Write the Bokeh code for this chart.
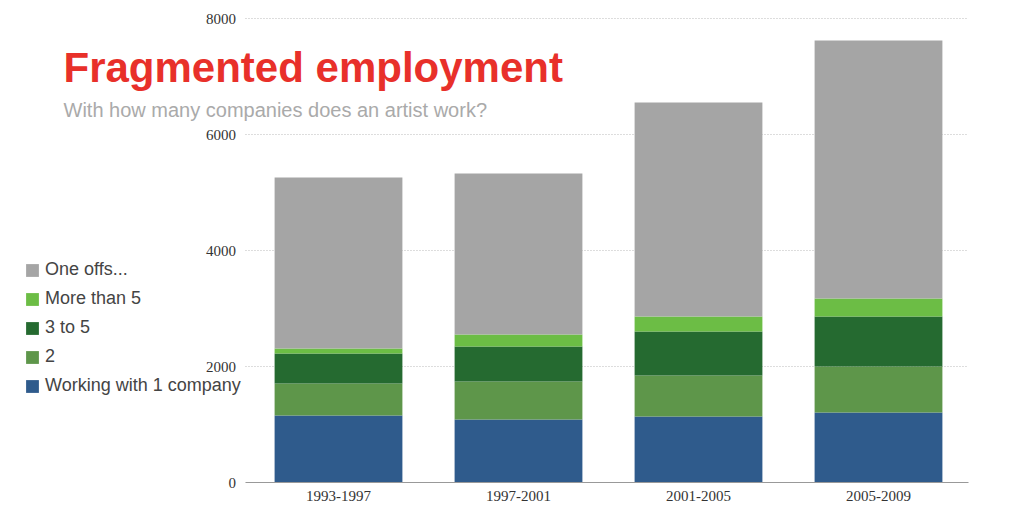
from bokeh.plotting import figure
from bokeh.models import Label, Legend, LegendItem, Range1d, ColumnDataSource
from bokeh.embed import file_html
from bokeh.resources import INLINE

periods = ["1993-1997", "1997-2001", "2001-2005", "2005-2009"]
one = [1155, 1086, 1138, 1207]
two = [552, 655, 707, 793]
three_five = [517, 604, 758, 862]
more5 = [86, 207, 259, 310]
offs = [2948, 2775, 3689, 4448]
names = ["Working with 1 company", "2", "3 to 5", "More than 5", "One offs..."]
colors = ["#2f5b8c", "#5e964a", "#256a30", "#6cbd45", "#a5a5a5"]
keys = ["one", "two", "three", "more", "offs"]
yticks = [0, 2000, 4000, 6000, 8000]

idx = list(range(len(periods)))
data = dict(x=idx, p=periods, one=one, two=two, three=three_five, more=more5, offs=offs)

p = figure(width=1008, height=518, output_backend="svg", toolbar_location=None,
           min_border=0, x_axis_type=None, y_axis_type=None)
p.x_range = Range1d(-338 / 180, (1008 - 338) / 180)
p.y_range = Range1d(-36 / 0.058, 8000 + 18 / 0.058)
p.grid.visible = False
p.outline_line_color = None

x0, x1 = -0.5167, 3.5
p.segment(x0=[x0] * len(yticks[1:]), x1=[x1] * len(yticks[1:]), y0=yticks[1:], y1=yticks[1:],
          line_color="#bbbbbb", line_dash="1 2", line_width=1)
rs = p.vbar_stack(keys, x="x", width=0.71, color=colors, line_color=None,
                  source=ColumnDataSource(data))
p.segment(x0=[x0], x1=[x1], y0=[0], y1=[0], line_color="#999999")
p.text(x=[-0.57] * len(yticks), y=yticks, text=[str(t) for t in yticks],
       text_align="right", text_baseline="middle", text_font="Liberation Sans",
       text_font_size="15px", text_color="#333333")
p.text(x=idx, y=[-150] * len(idx), text=periods, text_align="center",
       text_baseline="top", text_font="Liberation Sans", text_font_size="15px",
       text_color="#333333")

items = [LegendItem(label=names[i], renderers=[rs[i]]) for i in range(4, -1, -1)]
leg = Legend(items=items, location=(24, 122), background_fill_alpha=0,
             border_line_color=None, label_text_font="Liberation Sans",
             label_text_font_size="18px", glyph_width=16, glyph_height=16,
             label_height=18, spacing=8, padding=0, margin=0)
p.add_layout(leg, "center")

p.add_layout(Label(x=63, y=428, x_units="screen", y_units="screen",
                   text="Fragmented employment", text_color="#e8302a",
                   text_font="Liberation Sans", text_font_style="bold",
                   text_font_size="42px"))
p.add_layout(Label(x=63, y=398, x_units="screen", y_units="screen",
                   text="With how many companies does an artist work?", text_color="#aaaaaa",
                   text_font="Liberation Sans", text_font_size="20px"))

open("out.html", "w").write(file_html(p, INLINE))
